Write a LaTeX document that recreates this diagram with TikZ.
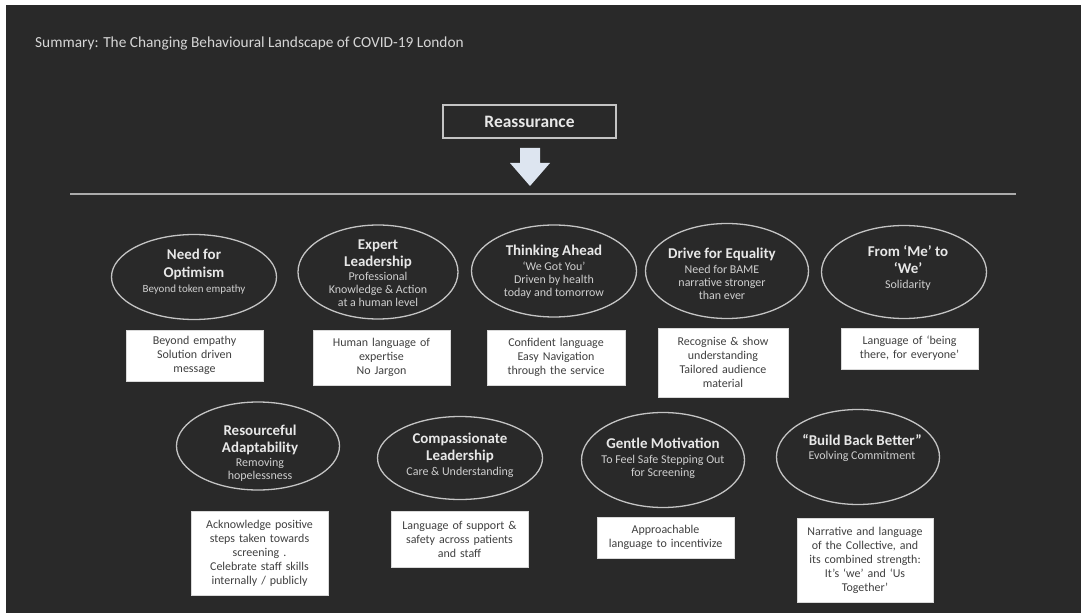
\documentclass[tikz,border=0pt]{standalone}
\usepackage{fontspec}
\setmainfont{Carlito}
\usetikzlibrary{shapes.geometric}
\definecolor{bg}{HTML}{292929}
\definecolor{elc}{HTML}{C4C4C4}
\definecolor{ttl}{HTML}{D6D6D6}
\definecolor{etc}{HTML}{E8E8E8}
\definecolor{esc}{HTML}{CFCFCF}
\definecolor{btc}{HTML}{404040}
\definecolor{arrc}{HTML}{DDE5F0}
\definecolor{linec}{HTML}{ABABAB}
\newcommand\ET{\fontsize{15}{17}\selectfont\bfseries\color{etc}}
\newcommand\ES{\fontsize{12}{13}\selectfont\color{esc}}
\newcommand\ESs{\fontsize{11}{12}\selectfont\color{esc}}
\tikzset{
  ell/.style={draw=elc, line width=1.3bp, ellipse, inner sep=0pt},
  etext/.style={align=center, inner sep=0pt, font=\fontsize{12}{13}\selectfont},
  wbox/.style={fill=white, draw=black!15, line width=0.5bp, align=center, inner sep=0pt,
     text=btc, font=\fontsize{12}{14}\selectfont},
}
\begin{document}
\begin{tikzpicture}[x=1bp,y=-1bp]
\useasboundingbox (0,0) rectangle (1081,613);
\fill[white] (0,0) rectangle (1081,613);
\fill[bg] (6,5) rectangle (1081,613);

\node[anchor=west, text=ttl, font=\fontsize{15.4}{19}\selectfont, inner sep=0pt] (title) at (35,43)
  {Summary: The Changing Behavioural Landscape of COVID-19 London};

\node[draw=elc, line width=1.4bp, minimum width=173bp, minimum height=33bp, inner sep=0pt,
  font=\fontsize{17.5}{20}\selectfont\bfseries, text=etc] (reas) at (529.5,121.5) {Reassurance};

\coordinate (atop) at (530,148);
\fill[arrc] (atop) ++(-10,0) -- ++(20,0) -- ++(0,15) -- ++(10,0) -- ++(-20,23) -- ++(-20,-23) -- ++(10,0) -- cycle;

\coordinate (lineL) at (70,194);
\coordinate (lineR) at (1016,194);
\draw[linec, line width=2bp] (lineL) -- (lineR);

% Row 1 ellipses
\node[ell, minimum width=165bp, minimum height=85bp] (e1) at (194,277) {};
\node[ell, minimum width=160bp, minimum height=94bp] (e2) at (378,272) {};
\node[ell, minimum width=165bp, minimum height=92bp] (e3) at (554,271) {};
\node[ell, minimum width=163bp, minimum height=95bp] (e4) at (727,271) {};
\node[ell, minimum width=165bp, minimum height=93bp] (e5) at (904,272) {};

\node[etext] (t1) at (194,272) {\ET Need for\\[5pt]\ET Optimism\\[2pt]\ESs Beyond token empathy};
\node[etext] (t2) at (378,273) {\ET Expert\\[4pt]\ET Leadership\\[1pt]\ES Professional\\\ES Knowledge \& Action\\\ES at a human level};
\node[etext] (t3) at (554,272) {\ET Thinking Ahead\\[2pt]\ES ‘We Got You’\\\ES Driven by health\\\ES today and tomorrow};
\node[etext] (t4) at (722,274) {\ET Drive for Equality\\[2pt]\ES Need for BAME\\\ES narrative stronger\\\ES than ever};
\node[etext] (t5) at (908,268) {\ET From ‘Me’ to\\[4pt]\ET ‘We’\\[2pt]\ES Solidarity};

% Row 1 boxes
\node[wbox, text width=137bp, minimum height=51bp] (b1) at (194.5,355.5) {Beyond empathy\\Solution driven\\message};
\node[wbox, text width=137bp, minimum height=55bp] (b2) at (381.5,357.5) {Human language of\\expertise\\No Jargon};
\node[wbox, text width=138bp, minimum height=55bp] (b3) at (556,357.5) {Confident language\\Easy Navigation\\through the service};
\node[wbox, text width=130bp, minimum height=69bp] (b4) at (723,362.5) {Recognise \& show\\understanding\\Tailored audience\\material};
\node[wbox, text width=137bp, minimum height=41bp] (b5) at (909.5,348.5) {Language of ‘being\\there, for everyone’};

% Row 2 ellipses
\node[ell, minimum width=163bp, minimum height=88bp] (e6) at (258,446) {};
\node[ell, minimum width=165bp, minimum height=83bp] (e7) at (460,458) {};
\node[ell, minimum width=163bp, minimum height=95bp] (e8) at (663,460) {};
\node[ell, minimum width=163bp, minimum height=95bp] (e9) at (858,457) {};

\node[etext] (t6) at (260,453) {\ET Resourceful\\[4pt]\ET Adaptability\\[1pt]\ES Removing\\\ES hopelessness};
\node[etext] (t7) at (460,455) {\ET Compassionate\\[4pt]\ET Leadership\\[2pt]\ES Care \& Understanding};
\node[etext] (t8) at (663,458) {\ET Gentle Motivation\\[2pt]\ES To Feel Safe Stepping Out\\\ES for Screening};
\node[etext] (t9) at (862,448) {\ET “Build Back Better”\\[2pt]\ES Evolving Commitment};

% Row 2 boxes
\node[wbox, text width=137bp, minimum height=84bp] (b6) at (259.5,553) {Acknowledge positive\\steps taken towards\\screening .\\Celebrate staff skills\\internally / publicly};
\node[wbox, text width=137bp, minimum height=56bp] (b7) at (459.5,539) {Language of support \&\\safety across patients\\and staff};
\node[wbox, text width=137bp, minimum height=41bp] (b8) at (665.5,537.5) {Approachable\\language to incentivize};
\node[wbox, text width=136bp, minimum height=84bp] (b9) at (865,560) {Narrative and language\\of the Collective, and\\its combined strength:\\It’s ‘we’ and ‘Us\\Together’};
\end{tikzpicture}
\end{document}
